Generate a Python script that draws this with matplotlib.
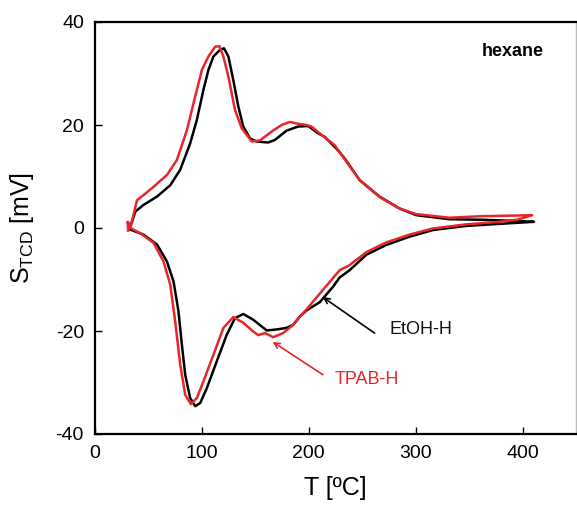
import matplotlib
matplotlib.use("Agg")
import matplotlib.pyplot as plt

plt.rcParams['font.family'] = ['Liberation Sans', 'DejaVu Sans']
plt.rcParams['mathtext.fontset'] = 'custom'
plt.rcParams['mathtext.rm'] = 'Liberation Sans'
plt.rcParams['axes.unicode_minus'] = False

# EtOH-H (black): upper branch, then lower branch back to the start
etoh_up_T = [31, 33, 37.8, 45.5, 58, 70.4, 79.7, 89, 95.3, 101.4, 106.1, 110.8, 117,
             120.7, 124.8, 129.4, 134.1, 138.7, 145, 151.2, 162, 168.3, 179.2, 190,
             199.4, 208.7, 214.9, 227.3, 233.6, 247.6, 266.2, 284.8, 300.4, 331.5,
             362.5, 390, 410.7]
etoh_up_S = [1.0, 0.25, 3.2, 4.5, 6.1, 8.3, 11.3, 16.4, 21.0, 26.8, 30.7, 33.3, 34.6,
             34.9, 33.3, 28.7, 23.6, 19.7, 17.4, 16.8, 16.6, 17.1, 18.9, 19.7,
             19.8, 18.4, 17.7, 15.1, 13.5, 9.3, 6.1, 3.8, 2.5, 1.7,
             1.6, 1.4, 1.2]
etoh_dn_T = [410.7, 378, 347, 316, 294, 272.4, 253.8, 238.2, 228.9, 222.7, 210.3, 197.9,
             191.6, 185.4, 179.2, 169.9, 160.6, 148, 138.7, 131, 123.3, 113.9, 104.6,
             98.4, 93.7, 89, 84.4, 81.3, 78.1, 73.5, 67.3, 58, 45.5, 33]
etoh_dn_S = [1.2, 0.8, 0.4, -0.4, -1.7, -3.3, -5.2, -8.2, -9.6, -11.4, -14.4, -16.0,
             -17.2, -18.8, -19.4, -19.7, -19.9, -17.8, -16.7, -17.5, -20.7, -25.9, -31.1,
             -34.0, -34.6, -33.0, -28.5, -22.7, -16.2, -10.4, -6.5, -3.2, -1.3, -0.3]

# TPAB-H (red)
tpab_up_T = [31, 30.5, 33, 39.3, 45.5, 54.8, 67.3, 76.6, 86, 93.7, 100, 106.1, 112.4,
             116.4, 120.1, 124.8, 131, 137.2, 146.6, 154.3, 165.2, 174.5, 182.3, 188.5,
             197.9, 202.5, 211.8, 224.2, 232, 247.6, 266.2, 284.8, 300.4, 331.5,
             362.5, 390, 409]
tpab_up_S = [-0.5, 1.2, 0.0, 5.4, 6.4, 8.0, 10.3, 13.2, 19.0, 25.5, 30.7, 33.3, 35.2,
             35.3, 33.3, 29.4, 22.9, 19.4, 16.8, 17.0, 18.7, 20.0, 20.6, 20.3,
             20.0, 19.7, 18.1, 16.1, 13.8, 9.3, 6.0, 3.8, 2.7, 2.0,
             2.3, 2.4, 2.5]
tpab_dn_T = [409, 395, 378, 347, 316, 294, 272.4, 253.8, 238.2, 228.9, 213.3, 197.9,
             191.6, 185.4, 176, 166.7, 159, 152.7, 148, 138.7, 129.4, 120.1, 110.8,
             101.4, 95.3, 89.7, 84.4, 79.7, 75, 70.4, 64.1, 54.8, 42.4, 33]
tpab_dn_S = [2.5, 1.6, 1.2, 0.7, -0.1, -1.3, -2.8, -4.7, -7.2, -8.2, -12.0, -15.8,
             -17.2, -18.8, -20.4, -21.2, -20.4, -20.8, -20.1, -18.4, -17.3, -19.4, -24.6,
             -29.8, -33.0, -34.2, -32.4, -26.5, -18.1, -11.0, -6.5, -2.9, -1.0, 0.0]

fig = plt.figure(figsize=(5.77, 5.07), dpi=100)
ax = fig.add_axes([95 / 577, 73 / 507, 481 / 577, 412 / 507])

black = '#000000'
red = '#e8262a'
ax.plot(etoh_up_T + etoh_dn_T, etoh_up_S + etoh_dn_S, color=black, lw=1.8,
        solid_joinstyle='round')
ax.plot(tpab_up_T + tpab_dn_T, tpab_up_S + tpab_dn_S, color=red, lw=1.8,
        solid_joinstyle='round')

ax.set_xlim(0, 450)
ax.set_ylim(-40, 40)
ax.set_xticks([0, 100, 200, 300, 400])
ax.set_yticks([-40, -20, 0, 20, 40])
ax.tick_params(direction='in', length=5, width=1, labelsize=14, pad=8)
for s in ax.spines.values():
    s.set_linewidth(1.6)
ax.spines['right'].set_color('#bbbbbb')
ax.spines['right'].set_linewidth(1.0)

ax.set_xlabel('T [ºC]', fontsize=18, labelpad=10)
ax.set_ylabel('S$_{\\mathregular{TCD}}$ [mV]', fontsize=18, labelpad=14)

ax.text(420, 34.2, 'hexane', fontsize=13, fontweight='bold', ha='right', va='center')

# labels with separate arrows (gap between arrow tail and text)
ax.text(275.5, -19.8, 'EtOH-H', fontsize=13, color='#111111', ha='left', va='center')
ax.annotate('', xy=(213, -13.4), xytext=(261.5, -20.4),
            arrowprops=dict(arrowstyle='->', color=black, lw=1.2, shrinkA=0, shrinkB=0))
ax.text(224.2, -29.5, 'TPAB-H', fontsize=13, color=red, ha='left', va='center')
ax.annotate('', xy=(166.2, -22.1), xytext=(213.3, -28.5),
            arrowprops=dict(arrowstyle='->', color=red, lw=1.2, shrinkA=0, shrinkB=0))

fig.savefig('out.png', dpi=100)
